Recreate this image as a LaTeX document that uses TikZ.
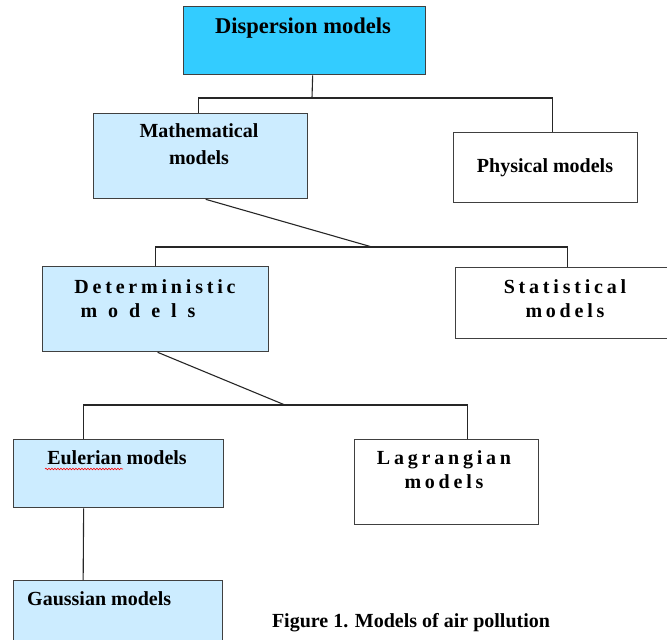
\documentclass[tikz,border=0pt]{standalone}
\usepackage{fontspec}
\setmainfont{Liberation Serif}
\newfontfamily\spacedfont[LetterSpace=19]{Liberation Serif}
\usetikzlibrary{positioning,decorations.pathmorphing}
\definecolor{deepsky}{HTML}{33CCFF}
\definecolor{paleblue}{HTML}{CCECFF}

\begin{document}
\begin{tikzpicture}[x=1pt,y=-1pt,
    box/.style={draw=black!75,line width=1.3pt,anchor=north west,inner sep=0pt},
    lbl/.style={font=\bfseries\fontsize{20}{27}\selectfont,align=center,inner sep=0pt,anchor=base},
    wide/.style={lbl,font=\spacedfont\bfseries\fontsize{20}{24}\selectfont},
    link/.style={draw=black!85,line width=1.1pt}]
    \useasboundingbox (0,0) rectangle (667,640);

    \node[box,fill=deepsky,minimum width=242pt,minimum height=68pt] at (183,6)(disp){};
    \node[box,fill=paleblue,minimum width=214pt,minimum height=85pt] at (93,113)(math){};
    \node[box,fill=white,minimum width=184pt,minimum height=70pt] at (453,132)(phys){};
    \node[box,fill=paleblue,minimum width=226pt,minimum height=85pt] at (42,266)(det){};
    \node[box,fill=white,minimum width=220pt,minimum height=71pt] at (455,267)(stat){};
    \node[box,fill=paleblue,minimum width=210pt,minimum height=68pt] at (13,439)(eul){};
    \node[box,fill=white,minimum width=184pt,minimum height=85pt] at (354,439)(lag){};
    \node[box,fill=paleblue,minimum width=209pt,minimum height=80pt] at (13,580)(gau){};

    % multi-line labels sit on the baseline of their last line
    \node[lbl,font=\bfseries\fontsize{22.5}{27}\selectfont] at (303,33)(disptext){Dispersion models};
    \node[lbl] at (199,164)(mathtext){Mathematical\\models};
    \node[lbl] at (545,172)(phystext){Physical models};
    \node[wide] at (155,317)(dettext){Deterministic\\{\addfontfeature{LetterSpace=55}models}\hspace*{34pt}};
    \node[wide] at (565,317)(stattext){Statistical\\models};
    \node[wide] at (444,488)(lagtext){Lagrangian\\models};
    \node[lbl] at (117,464)(eultext){Eulerian models};
    \node[lbl,anchor=base west] at (27,605)(gautext){Gaussian models};
    \node[lbl] at (411,627)(caption){Figure 1. Models of air pollution};

    \draw[red,line width=0.6pt,decorate,decoration={snake,amplitude=0.8pt,segment length=3pt}] (45,469) -- (123,469);

    \coordinate (j1) at (312,98);
    \coordinate (j2) at (372,247);
    \coordinate (j3) at (285,405);

    \draw[link] ([xshift=8pt]disp.south) -- (j1);
    \draw[link] ([xshift=-2pt]math.north) |- (j1) -| ([xshift=7pt]phys.north);
    \draw[link] ([xshift=5pt]math.south) -- (j2);
    \draw[link] (det.north) |- (j2) -| ([xshift=2pt]stat.north);
    \draw[link] ([xshift=2pt]det.south) -- (j3);
    \draw[link] ([xshift=-35pt]eul.north) |- (j3) -| ([xshift=21pt]lag.north);
    \draw[link] ([xshift=-35pt]eul.south) -- ([xshift=-35pt]gau.north);
\end{tikzpicture}
\end{document}
